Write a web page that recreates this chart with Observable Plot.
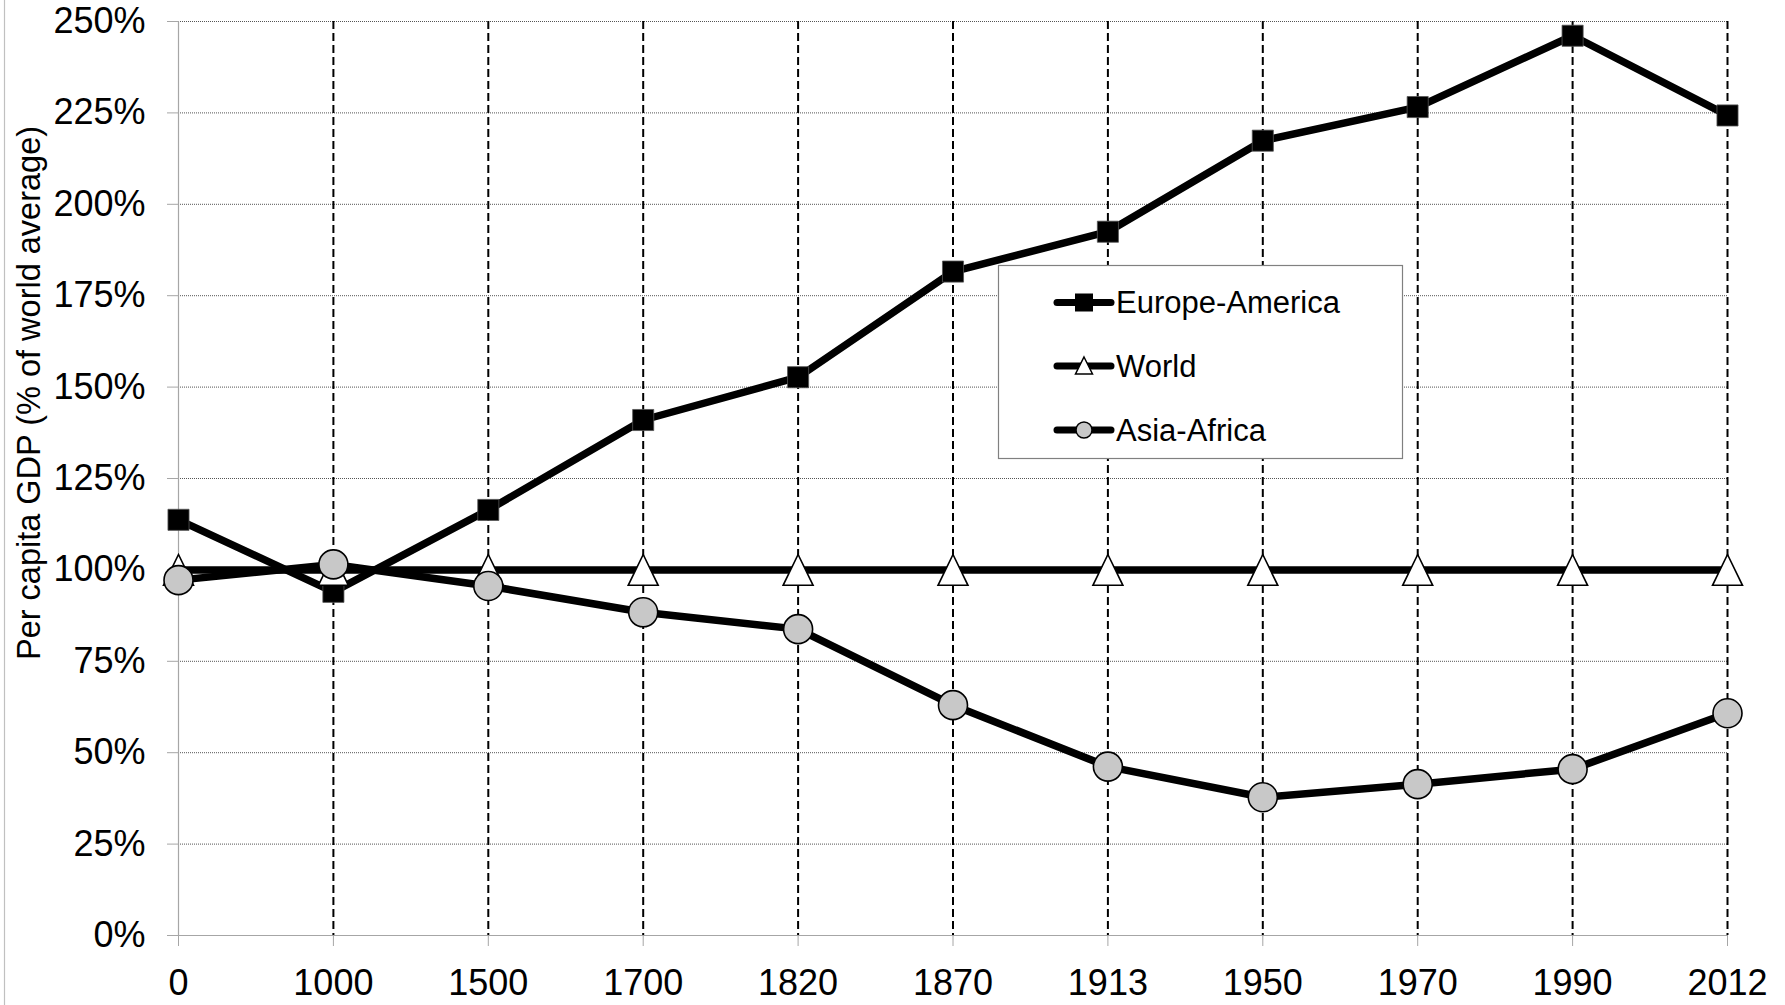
<!DOCTYPE html>
<html>
<head>
<meta charset="utf-8">
<script src="https://cdn.jsdelivr.net/npm/d3@7"></script>
<script src="https://cdn.jsdelivr.net/npm/@observablehq/plot@0.6"></script>
<style>
  html, body { margin: 0; padding: 0; background: #fff; }
  #wrap { position: relative; width: 1785px; height: 1005px; font-family: "Liberation Sans", Arial, sans-serif; }
  #overlay { position: absolute; left: 0; top: 0; pointer-events: none; }
</style>
</head>
<body>
<div id="wrap"></div>
<script>
// ---- data ----
const years = ["0", "1000", "1500", "1700", "1820", "1870", "1913", "1950", "1970", "1990", "2012"];
const europeAmerica = [113.7, 94.0, 116.4, 141.0, 152.7, 181.6, 192.5, 217.4, 226.6, 246.1, 224.3];
const world = [100, 100, 100, 100, 100, 100, 100, 100, 100, 100, 100];
const asiaAfrica = [97.2, 101.5, 95.6, 88.4, 83.8, 63.0, 46.2, 37.8, 41.4, 45.5, 60.8];
const yTicks = [0, 25, 50, 75, 100, 125, 150, 175, 200, 225, 250];
const seriesNames = ["Europe-America", "World", "Asia-Africa"];
const yTitle = "Per capita GDP (% of world average)";

const rows = (name, vals) => years.map((y, i) => ({ year: y, value: vals[i], series: name }));
const eaRows = rows(seriesNames[0], europeAmerica);
const wRows = rows(seriesNames[1], world);
const aaRows = rows(seriesNames[2], asiaAfrica);

// tall triangle symbol (width ~30, height ~31)
const tallTriangle = {
  draw(ctx, size) {
    const r = Math.sqrt(size / Math.PI);
    const hw = r * 1.07, hh = r * 1.1;
    ctx.moveTo(0, -hh);
    ctx.lineTo(hw, hh);
    ctx.lineTo(-hw, hh);
    ctx.closePath();
  }
};

const axisGray = "#a6a6a6";
const lineW = 7.5;

const chart = Plot.plot({
  width: 1785,
  height: 1005,
  marginLeft: 178,
  marginRight: 58,
  marginTop: 21,
  marginBottom: 70,
  style: { fontFamily: "'Liberation Sans', Arial, sans-serif", background: "#fff", color: "#000" },
  x: { type: "point", domain: years, padding: 0, round: false },
  y: { domain: [0, 250] },
  marks: [
    // horizontal dotted gridlines
    Plot.ruleY(yTicks.filter(d => d > 0), { stroke: "#555", strokeWidth: 1, strokeDasharray: "1,1" }),
    // vertical dashed gridlines
    Plot.ruleX(years.slice(1), { stroke: "#000", strokeWidth: 2, strokeDasharray: "8,4" }),
    // axis lines
    Plot.ruleX([years[0]], { stroke: axisGray, strokeWidth: 1.2 }),
    Plot.ruleY([0], { stroke: axisGray, strokeWidth: 1.2 }),
    Plot.axisY({ ticks: yTicks, tickFormat: d => d + "%", fontSize: 36, tickSize: 11, tickPadding: 22, stroke: axisGray, fill: "#000", label: null }),
    Plot.axisX({ fontSize: 36, tickSize: 11, tickPadding: 23, stroke: axisGray, fill: "#000", label: null }),
    // Europe-America
    Plot.line(eaRows, { x: "year", y: "value", stroke: "#000", strokeWidth: lineW, strokeLinejoin: "round" }),
    Plot.dot(eaRows, { x: "year", y: "value", symbol: "square", r: 11.9, fill: "#000", stroke: "#555", strokeWidth: 0.8 }),
    // World
    Plot.line(wRows, { x: "year", y: "value", stroke: "#000", strokeWidth: lineW }),
    Plot.dot(wRows, { x: "year", y: "value", symbol: tallTriangle, r: 14, fill: "#fff", stroke: "#000", strokeWidth: 1.6 }),
    // Asia-Africa
    Plot.line(aaRows, { x: "year", y: "value", stroke: "#000", strokeWidth: lineW, strokeLinejoin: "round" }),
    Plot.dot(aaRows, { x: "year", y: "value", symbol: "circle", r: 14.5, fill: "#c8c8c8", stroke: "#000", strokeWidth: 1.6 })
  ]
});

const wrap = document.getElementById("wrap");
wrap.appendChild(chart);

// overlay: y-axis title, left frame line, legend
const ov = d3.select(wrap).append("svg")
  .attr("id", "overlay").attr("width", 1785).attr("height", 1005)
  .style("font-family", "'Liberation Sans', Arial, sans-serif");

ov.append("line").attr("x1", 4.5).attr("x2", 4.5).attr("y1", 0).attr("y2", 1005)
  .attr("stroke", "#c0c0c0").attr("stroke-width", 1.2);

ov.append("text")
  .attr("transform", "translate(40,393) rotate(-90)")
  .attr("text-anchor", "middle")
  .attr("font-size", 32.5)
  .attr("fill", "#000")
  .text(yTitle);

const lg = ov.append("g");
lg.append("rect").attr("x", 998.5).attr("y", 265.5).attr("width", 404).attr("height", 193)
  .attr("fill", "#fff").attr("stroke", "#808080").attr("stroke-width", 1.2);
const rowY = [302.5, 366, 430];
seriesNames.forEach((name, i) => {
  const y = rowY[i];
  lg.append("line").attr("x1", 1057).attr("x2", 1111).attr("y1", y).attr("y2", y)
    .attr("stroke", "#000").attr("stroke-width", 7).attr("stroke-linecap", "round");
  const cx = 1084;
  if (i === 0) {
    lg.append("rect").attr("x", cx - 9).attr("y", y - 9).attr("width", 18).attr("height", 18).attr("fill", "#000");
  } else if (i === 1) {
    lg.append("path").attr("d", `M${cx},${y - 9}L${cx + 8.5},${y + 8}L${cx - 8.5},${y + 8}Z`)
      .attr("fill", "#fff").attr("stroke", "#000").attr("stroke-width", 1.5);
  } else {
    lg.append("circle").attr("cx", cx).attr("cy", y).attr("r", 8).attr("fill", "#c8c8c8")
      .attr("stroke", "#000").attr("stroke-width", 1.5);
  }
  lg.append("text").attr("x", 1116).attr("y", y).attr("dy", "0.35em")
    .attr("font-size", 31).attr("fill", "#000").text(name);
});
</script>
</body>
</html>
